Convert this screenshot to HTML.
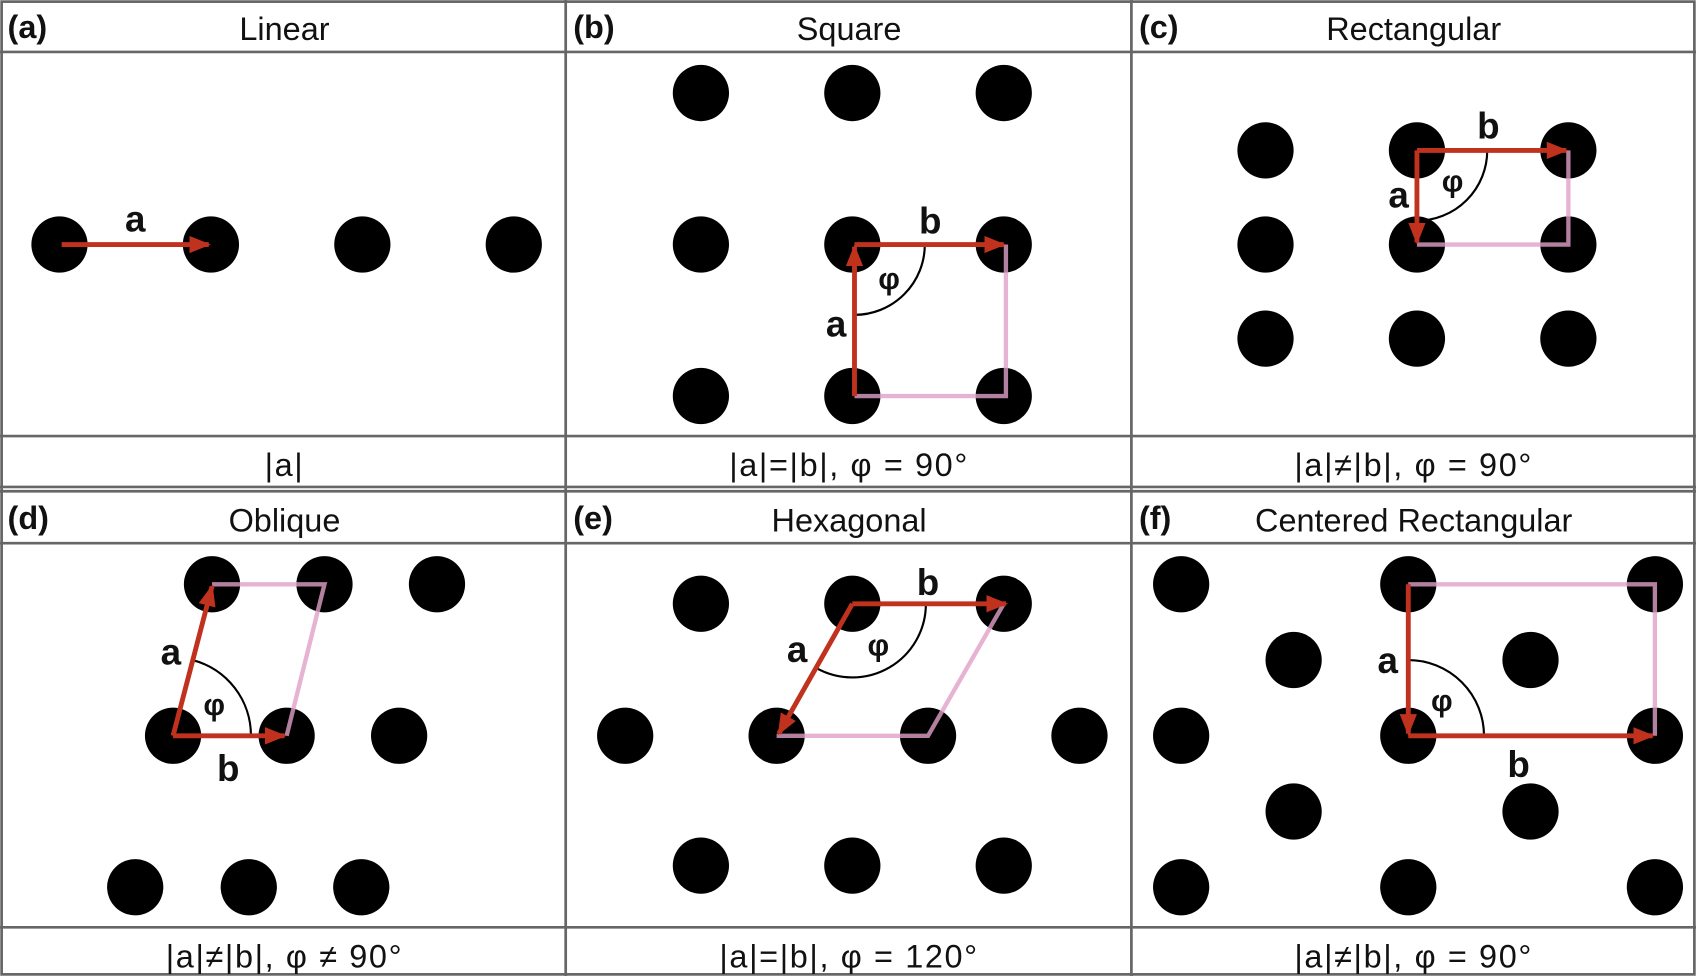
<!DOCTYPE html>
<html><head><meta charset="utf-8"><style>
html,body{margin:0;padding:0;background:#fff;width:1696px;height:976px;overflow:hidden}
svg{display:block}
text{font-family:"Liberation Sans","DejaVu Sans",sans-serif;fill:#111}
.cap{letter-spacing:1.5px}
</style></head><body>
<svg id="fig" width="1696" height="976" viewBox="0 0 1568 902" preserveAspectRatio="none" xmlns="http://www.w3.org/2000/svg">
<defs><marker id="ah" markerUnits="userSpaceOnUse" markerWidth="20" markerHeight="16" refX="18" refY="8" orient="auto"><path d="M0,0 L20,8 L0,16 Z" fill="#c0321e"/></marker></defs>
<g id="grid" stroke="#666" stroke-width="2.5" fill="none">
<rect x="1.5" y="1.5" width="1565" height="899"/>
<line x1="523" y1="0" x2="523" y2="902"/><line x1="1046" y1="0" x2="1046" y2="902"/>
<line x1="0" y1="48" x2="1568" y2="48"/><line x1="0" y1="403" x2="1568" y2="403"/>
<line x1="0" y1="450" x2="1568" y2="450"/><line x1="0" y1="454" x2="1568" y2="454"/>
<line x1="0" y1="502" x2="1568" y2="502"/><line x1="0" y1="857" x2="1568" y2="857"/>
</g>
<g id="texts" font-size="30">
<text x="7" y="35" font-weight="bold">(a)</text>
<text x="263" y="37" text-anchor="middle">Linear</text>
<text x="530" y="35" font-weight="bold">(b)</text>
<text x="785" y="37" text-anchor="middle">Square</text>
<text x="1053" y="35" font-weight="bold">(c)</text>
<text x="1307" y="37" text-anchor="middle">Rectangular</text>
<text x="7" y="489" font-weight="bold">(d)</text>
<text x="263" y="491" text-anchor="middle">Oblique</text>
<text x="530" y="489" font-weight="bold">(e)</text>
<text x="785" y="491" text-anchor="middle">Hexagonal</text>
<text x="1053" y="489" font-weight="bold">(f)</text>
<text x="1307" y="491" text-anchor="middle">Centered Rectangular</text>
<text class="cap" x="263" y="440" text-anchor="middle">|a|</text>
<text class="cap" x="785" y="440" text-anchor="middle">|a|=|b|, φ = 90°</text>
<text class="cap" x="1307" y="440" text-anchor="middle">|a|≠|b|, φ = 90°</text>
<text class="cap" x="263" y="894" text-anchor="middle">|a|≠|b|, φ ≠ 90°</text>
<text class="cap" x="785" y="894" text-anchor="middle">|a|=|b|, φ = 120°</text>
<text class="cap" x="1307" y="894" text-anchor="middle">|a|≠|b|, φ = 90°</text>
</g>
<g id="dots"></g><g id="cells" opacity="0.8"></g><g id="arcs"></g><g id="arrows"></g><g id="vlabels"></g>
</svg>
<script>
// lattice points per panel: [x,y]
const pointsA=[[55,226],[195,226],[335,226],[475,226]];
const pointsB=[[648,86],[788,86],[928,86],[648,226],[788,226],[928,226],[648,366],[788,366],[928,366]];
const pointsC=[[1170,139],[1310,139],[1450,139],[1170,226],[1310,226],[1450,226],[1170,313],[1310,313],[1450,313]];
const pointsD=[[196,540],[300,540],[404,540],[160,680],[265,680],[369,680],[125,820],[230,820],[334,820]];
const pointsE=[[648,558],[788,558],[928,558],[578,680],[718,680],[858,680],[998,680],[648,800],[788,800],[928,800]];
const pointsF=[[1092,540],[1302,540],[1530,540],[1196,610],[1415,610],[1092,680],[1302,680],[1530,680],[1196,750],[1415,750],[1092,820],[1302,820],[1530,820]];
// vectors [x1,y1,x2,y2]
const vectors=[[57,226,193,226],[790,366,790,228],[790,226,928,226],[1310,139,1448,139],[1310,139,1310,224],[160,680,196,542],[160,680,263,680],[788,558,930,558],[788,558,720,678],[1302,540,1302,678],[1302,680,1528,680]];
const cells=["M790,366 L930,366 L930,226","M1310,226 L1450,226 L1450,139","M196,540 L300,540 L265,680","M718,680 L858,680 L928,558","M1302,540 L1530,540 L1530,680"];
const arcs=["M855,226 A65,65 0 0 1 790,291","M1375,139 A65,65 0 0 1 1310,204","M232,680 A72,72 0 0 0 178,610","M856,558 A68,68 0 0 1 754,617","M1302,610 A70,70 0 0 1 1372,680"];
const labels=[["a",125,214],["a",773,311],["b",860,216],["φ",822,267],["a",1293,192],["b",1376,128],["φ",1343,177],["a",158,614],["b",211,722],["φ",198,661],["a",737,612],["b",858,550],["φ",812,606],["a",1283,622],["b",1404,718],["φ",1333,657]];
const NS="http://www.w3.org/2000/svg";
function mk(t,a,p){const e=document.createElementNS(NS,t);for(const k in a)e.setAttribute(k,a[k]);document.getElementById(p).appendChild(e);return e;}
[pointsA,pointsB,pointsC,pointsD,pointsE,pointsF].forEach(arr=>arr.forEach(p=>{
 const e=mk('ellipse',{cx:p[0],cy:p[1],rx:26,ry:26,fill:'#000'},'dots');
 
 
}));
cells.forEach(d=>{const e=mk('path',{d:d,fill:'none',stroke:'#e0a0c8','stroke-width':4},'cells');
 
 });
arcs.forEach(d=>{const e=mk('path',{d:d,fill:'none',stroke:'#000','stroke-width':2},'arcs');
 
 });
vectors.forEach(v=>{const e=mk('line',{x1:v[0],y1:v[1],x2:v[2],y2:v[3],stroke:'#c0321e','stroke-width':4.5,'marker-end':'url(#ah)'},'arrows');
 
 });
labels.forEach(l=>{const e=mk('text',{x:l[1],y:l[2],'text-anchor':'middle','font-size':l[0]==='φ'?28:34,'font-weight':'bold'},'vlabels');
 e.textContent=l[0];
 
 });
</script>
</body></html>
